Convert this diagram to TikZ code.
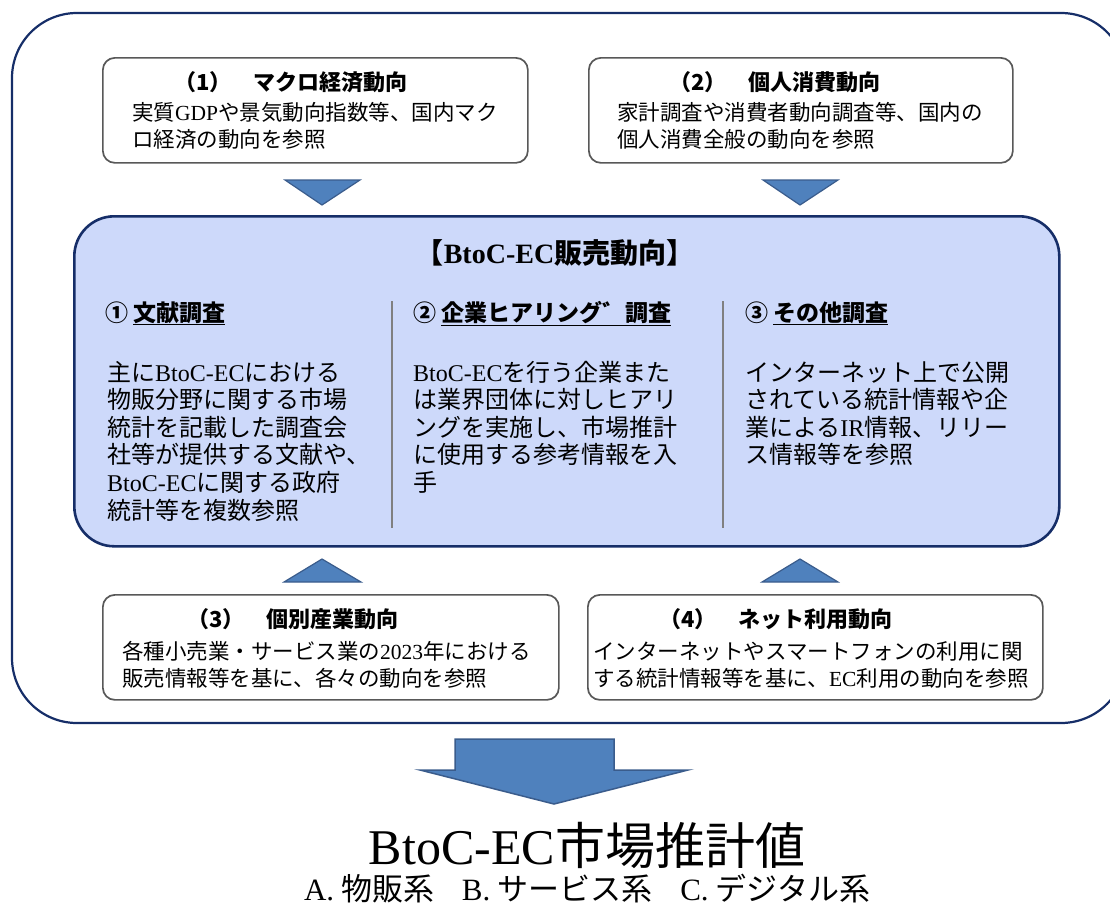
\documentclass[tikz,border=0pt]{standalone}
\usepackage{fontspec}
\setmainfont{Noto Sans CJK JP}
\newfontfamily\latf{Liberation Serif}
\newcommand\lat[1]{{\latf #1}}
\definecolor{navy}{RGB}{22,46,104}
\definecolor{boxgray}{RGB}{88,88,88}
\definecolor{lav}{RGB}{205,217,250}
\definecolor{trifill}{RGB}{79,129,189}
\definecolor{tridark}{RGB}{58,92,140}
\definecolor{sepgray}{RGB}{128,128,128}
\begin{document}
\begin{tikzpicture}[x=1pt,y=-1pt,
  frame/.style={draw=navy, line width=2.2pt, rounded corners=65pt},
  ibox/.style={draw=boxgray, line width=1.7pt, rounded corners=12pt, fill=white, anchor=north west, inner sep=0pt},
  cbox/.style={draw=navy, line width=2.6pt, rounded corners=40pt, fill=lav, anchor=north west, inner sep=0pt},
  ttl/.style={anchor=base west, inner sep=0pt, font=\fontsize{22}{26}\selectfont\bfseries},
  boxbody/.style={anchor=base west, inner sep=0pt, align=left, text width=480pt, font=\fontsize{21.5}{27}\selectfont},
  ctitle/.style={anchor=base, inner sep=0pt, font=\fontsize{28}{32}\selectfont\bfseries},
  chead/.style={anchor=base west, inner sep=0pt, font=\fontsize{23}{27}\selectfont\bfseries},
  cbody/.style={anchor=base west, inner sep=0pt, align=left, text width=320pt, font=\fontsize{24}{27.6}\selectfont},
  sepline/.style={draw=sepgray, line width=1.5pt},
  tri/.style={fill=trifill, draw=tridark, line width=1.2pt, line join=miter},
  bigtxt/.style={anchor=base, inner sep=0pt, font=\fontsize{50}{54}\selectfont},
  subtxt/.style={anchor=base, inner sep=0pt, font=\fontsize{31}{34}\selectfont}
]
\useasboundingbox (0,0) rectangle (1110,906);

% outer frame
\draw[frame] (12,13) rectangle (1126,723);

% top boxes
\node[ibox, minimum width=425pt, minimum height=105pt] (b1) at (102,57) {};
\node[ibox, minimum width=424pt, minimum height=105pt] (b2) at (588,57) {};
\node[ttl] (t1) at (174,90) {（1）　マクロ経済動向};
\node[boxbody] (d1) at (132,120) {実質\lat{GDP}や景気動向指数等、国内マク\\ロ経済の動向を参照};
\node[ttl] (t2) at (669,90) {（2）　個人消費動向};
\node[boxbody] (d2) at (617,120) {家計調査や消費者動向調査等、国内の\\個人消費全般の動向を参照};

% down triangles
\draw[tri] (285,180) -- (360,180) -- (322,205) -- cycle;
\draw[tri] (763,180) -- (838,180) -- (800,205) -- cycle;

% central box
\node[cbox, minimum width=985pt, minimum height=330pt] (core) at (73,215) {};
\node[ctitle] (ct) at (555,263) {【\lat{BtoC-EC}販売動向】};
\node[chead] (h1) at (105,321) {① \underline{文献調査}};
\node[chead] (h2) at (413,321) {② \underline{企業ヒアリング゛調査}};
\node[chead] (h3) at (745,321) {③ \underline{その他調査}};
\draw[sepline] (392,301) -- (392,528);
\draw[sepline] (723,301) -- (723,528);
\node[cbody] (c1) at (107,381) {主に\lat{BtoC-EC}における\\物販分野に関する市場\\統計を記載した調査会\\社等が提供する文献や、\\\lat{BtoC-EC}に関する政府\\統計等を複数参照};
\node[cbody] (c2) at (413,381) {\lat{BtoC-EC}を行う企業また\\は業界団体に対しヒアリ\\ングを実施し、市場推計\\に使用する参考情報を入\\手};
\node[cbody] (c3) at (745,381) {インターネット上で公開\\されている統計情報や企\\業による\lat{IR}情報、リリー\\ス情報等を参照};

% up triangles
\draw[tri] (284,582) -- (361,582) -- (322,559) -- cycle;
\draw[tri] (762,582) -- (838,582) -- (800,559) -- cycle;

% bottom boxes
\node[ibox, minimum width=456pt, minimum height=105pt] (b3) at (102,594) {};
\node[ibox, minimum width=455pt, minimum height=105pt] (b4) at (587,594) {};
\node[ttl] (t3) at (187,627) {（3）　個別産業動向};
\node[boxbody] (d3) at (122,659) {各種小売業・サービス業の\lat{2023}年における\\販売情報等を基に、各々の動向を参照};
\node[ttl] (t4) at (659,627) {（4）　ネット利用動向};
\node[boxbody] (d4) at (593,659) {インターネットやスマートフォンの利用に関\\する統計情報等を基に、\lat{EC}利用の動向を参照};

% big arrow
\draw[tri, line width=1.5pt] (455,739) -- (614,739) -- (614,770) -- (688,770) -- (554,804) -- (420,770) -- (455,770) -- cycle;

% result text
\node[bigtxt] (res) at (587,864) {\lat{BtoC-EC}市場推計値};
\node[subtxt] (sub) at (587,900) {\lat{A.} 物販系\hspace{0.9em}\lat{B.} サービス系\hspace{0.9em}\lat{C.} デジタル系};
\end{tikzpicture}
\end{document}
